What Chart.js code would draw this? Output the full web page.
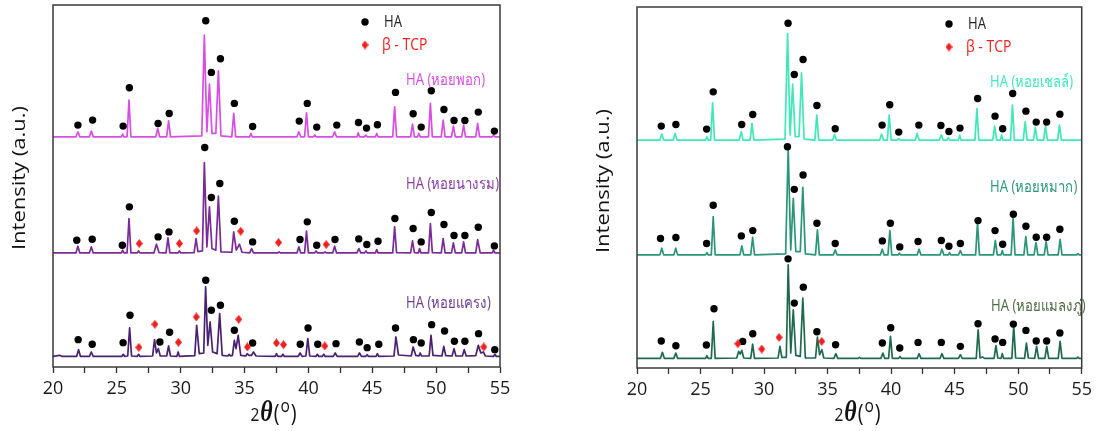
<!DOCTYPE html>
<html>
<head>
<meta charset="utf-8">
<script src="https://cdn.jsdelivr.net/npm/chart.js@4.4.1/dist/chart.umd.min.js"></script>
<style>
  html, body { margin: 0; padding: 0; background: #fff; }
  #wrap { position: relative; width: 1097px; height: 431px; overflow: hidden; }
  #left { position: absolute; left: 0; top: 0; }
  #right { position: absolute; left: 550px; top: 0; }
</style>
</head>
<body>
<div id="wrap">
  <canvas id="left" width="550" height="431"></canvas>
  <canvas id="right" width="547" height="431"></canvas>
</div>
<script>
// ====== DATA (2θ in degrees, intensity in a.u. with stacking offset) ======
const tickLabels = [20, 25, 30, 35, 40, 45, 50, 55];

// left panel traces
const hoiPhok = [[20,69],[21.8,69],[21.95,70.5],[22.1,69],[22.85,69],[23.0,70.7],[23.15,69],[25.35,69],[25.45,69.8],[25.55,69],[25.8,69],[25.95,80],[26.1,69],[28.05,69],[28.2,71.5],[28.35,69],[28.9,69],[29.05,73.8],[29.2,69],[31.65,69.3],[31.85,99.5],[32.05,70.5],[32.25,84.8],[32.45,70],[32.75,70],[32.95,88.8],[33.15,69.3],[34.0,69],[34.15,76],[34.3,69],[35.4,69],[35.5,70],[35.6,69],[39.1,69],[39.25,70.5],[39.4,69],[39.7,69],[39.85,76.2],[40.0,69],[40.4,69],[40.5,69.5],[40.6,69],[41.9,69],[42.05,70.5],[42.2,69],[43.8,69],[43.9,70.2],[44.0,69],[44.4,69],[44.5,69.5],[44.6,69],[45.25,69],[45.35,70],[45.45,69],[46.6,69],[46.75,78],[46.9,69],[48.0,69],[48.15,72.8],[48.3,69],[48.55,69],[48.65,70],[48.75,69],[49.4,69],[49.55,79],[49.7,69],[50.4,69],[50.55,74],[50.7,69],[51.2,69],[51.35,72.2],[51.5,69],[52.0,69],[52.15,72.5],[52.3,69],[53.1,69],[53.25,73],[53.4,69],[54.4,69],[54.5,69.5],[54.6,69],[55,69]];
const hoiNangrom = [[20,34.2],[21.8,34.2],[21.95,36.2],[22.1,34.2],[22.85,34.2],[23.0,36],[23.15,34.2],[25.35,34.2],[25.45,35],[25.55,34.2],[25.8,34.2],[25.95,44.5],[26.1,34.2],[26.6,34.2],[26.7,34.8],[26.8,34.2],[27.9,34.2],[28.1,36.8],[28.3,34.3],[28.85,34.2],[29.0,38.7],[29.15,34.2],[29.8,34.2],[29.9,34.8],[30.0,34.2],[31.05,34.3],[31.2,38.5],[31.35,34.6],[31.7,34.8],[31.85,61.3],[32.05,36],[32.25,48],[32.45,35.5],[32.75,35],[32.95,51.2],[33.15,34.5],[34.0,34.4],[34.15,40.5],[34.35,35],[34.6,36.8],[34.8,34.4],[35.4,34.2],[35.55,35.5],[35.7,34.2],[37.6,34.2],[37.7,34.5],[37.8,34.2],[39.1,34.2],[39.25,36],[39.4,34.2],[39.7,34.2],[39.85,40.7],[40.0,34.2],[40.5,34.2],[40.6,34.8],[40.7,34.2],[41.2,34.2],[41.3,34.5],[41.4,34.2],[41.9,34.2],[42.05,36.2],[42.2,34.2],[43.8,34.2],[43.95,35.5],[44.1,34.2],[44.4,34.2],[44.5,34.8],[44.6,34.2],[45.25,34.2],[45.35,35.2],[45.45,34.2],[46.6,34.2],[46.75,42],[46.9,34.3],[48.0,34.2],[48.15,37.8],[48.3,34.3],[48.6,34.2],[48.7,35.5],[48.8,34.2],[49.4,34.2],[49.55,43],[49.7,34.3],[50.4,34.2],[50.55,38.5],[50.7,34.2],[51.2,34.2],[51.35,37.2],[51.5,34.2],[52.0,34.2],[52.15,37.5],[52.3,34.2],[53.1,34.2],[53.25,38.2],[53.45,34.2],[54.4,34.2],[54.5,35],[54.6,34.2],[55,34.2]];
const hoiKraeng = [[20,3.2],[20.5,3.5],[20.7,3.2],[21.85,3.2],[22.0,5.2],[22.15,3.2],[22.85,3.2],[23.0,4.5],[23.15,3.2],[25.4,3.2],[25.5,3.8],[25.6,3.2],[25.85,3.3],[26.0,11.7],[26.15,3.3],[26.6,3.2],[26.7,3.8],[26.8,3.2],[27.8,3.3],[27.95,8.2],[28.1,4.2],[28.25,5.5],[28.4,3.3],[28.9,3.3],[29.05,6.3],[29.2,3.3],[29.7,3.2],[29.8,4.5],[29.9,3.2],[31.1,3.4],[31.25,12.5],[31.45,4],[31.8,4.2],[31.95,24],[32.12,6.5],[32.3,13.5],[32.5,4.5],[32.85,4],[33.05,16],[33.25,3.5],[33.7,3.3],[33.8,3.8],[33.9,3.3],[34.05,3.5],[34.2,8],[34.33,5.5],[34.5,9.5],[34.7,3.5],[35.1,3.3],[35.2,4],[35.35,3.5],[35.55,3.5],[35.7,4.5],[35.9,3.3],[37.4,3.2],[37.5,4],[37.6,3.2],[37.9,3.2],[38.0,3.8],[38.1,3.2],[39.2,3.2],[39.35,4.2],[39.5,3.2],[39.8,3.3],[39.95,8.5],[40.1,3.3],[40.6,3.2],[40.7,3.8],[40.8,3.2],[41.1,3.2],[41.2,3.8],[41.3,3.2],[41.95,3.2],[42.1,4.2],[42.25,3.2],[43.85,3.2],[44.0,4.2],[44.15,3.2],[44.5,3.2],[44.6,3.7],[44.7,3.2],[45.3,3.2],[45.4,4],[45.5,3.2],[46.7,3.3],[46.85,9],[47.05,3.6],[48.05,3.3],[48.2,6],[48.4,3.5],[48.65,3.3],[48.75,4.2],[48.85,3.3],[49.45,3.3],[49.6,9.5],[49.75,3.5],[50.45,3.3],[50.6,6.2],[50.75,3.4],[51.25,3.3],[51.4,5.5],[51.55,3.3],[52.05,3.3],[52.2,5.2],[52.35,3.3],[53.1,3.4],[53.3,6.5],[53.5,4.2],[53.7,4.5],[53.85,3.3],[54.5,3.2],[54.6,3.8],[54.7,3.2],[55,3.2]];

// right panel traces
const hoiChell = [[20,68.5],[21.8,68.5],[21.95,70.3],[22.1,68.5],[22.85,68.5],[23.0,70.5],[23.15,68.5],[25.4,68.5],[25.5,69.5],[25.6,68.5],[25.8,68.5],[25.95,79.7],[26.1,68.5],[28.05,68.5],[28.2,71],[28.35,68.5],[28.9,68.5],[29.05,73.5],[29.2,68.5],[31.65,68.8],[31.85,100.5],[32.05,70],[32.25,85.3],[32.45,69.5],[32.75,69.5],[32.95,88.7],[33.15,68.8],[34.0,68.5],[34.15,76],[34.3,68.5],[35.4,68.5],[35.55,70.2],[35.7,68.5],[39.1,68.5],[39.25,70.3],[39.4,68.5],[39.7,68.5],[39.85,76],[40.0,68.5],[40.5,68.5],[40.6,69],[40.7,68.5],[41.9,68.5],[42.05,70.5],[42.2,68.5],[43.8,68.5],[43.95,70.1],[44.1,68.5],[44.4,68.5],[44.5,69.2],[44.6,68.5],[45.3,68.5],[45.4,70],[45.5,68.5],[46.6,68.5],[46.75,78],[46.9,68.5],[48.0,68.5],[48.15,72.7],[48.3,68.5],[48.6,68.5],[48.7,70],[48.8,68.5],[49.4,68.5],[49.55,79],[49.7,68.5],[50.4,68.5],[50.55,74],[50.7,68.5],[51.2,68.5],[51.35,72.3],[51.5,68.5],[52.0,68.5],[52.15,72.7],[52.3,68.5],[53.1,68.5],[53.25,73],[53.4,68.5],[55,68.5]];
const hoiMak = [[20,34],[21.8,34],[21.95,36],[22.1,34],[22.9,34],[23.05,36],[23.2,34],[25.4,34],[25.5,34.7],[25.6,34],[25.85,34],[26.0,45.5],[26.15,34],[28.1,34],[28.25,36.7],[28.4,34],[28.95,34],[29.1,39.3],[29.25,34],[31.7,34.3],[31.9,66],[32.1,35.5],[32.3,51],[32.5,35],[32.85,35],[33.05,54.3],[33.25,34.3],[34.05,34],[34.2,41.5],[34.35,34],[35.45,34],[35.6,35.5],[35.75,34],[39.15,34],[39.3,35.7],[39.45,34],[39.75,34],[39.9,41.3],[40.05,34],[40.55,34],[40.65,34.5],[40.75,34],[42.05,34],[42.2,35.7],[42.35,34],[43.85,34],[44.0,35.7],[44.15,34],[44.5,34],[44.6,34.7],[44.7,34],[45.3,34],[45.45,35.3],[45.6,34],[46.65,34],[46.8,43.7],[46.95,34],[48.05,34],[48.2,38.3],[48.35,34],[48.65,34],[48.75,35.3],[48.85,34],[49.45,34],[49.6,45],[49.75,34],[50.45,34],[50.6,39.5],[50.75,34],[51.25,34],[51.4,37.7],[51.55,34],[52.05,34],[52.2,38],[52.35,34],[53.15,34],[53.3,38.7],[53.45,34],[54.6,34],[54.7,34.4],[54.8,34],[55,34]];
const hoiMalaengphu = [[20,2.9],[21.85,2.9],[22.0,4.7],[22.15,2.9],[22.9,2.9],[23.05,4.5],[23.2,2.9],[25.4,2.9],[25.5,3.7],[25.6,2.9],[25.85,2.9],[26.0,14],[26.15,2.9],[27.85,3],[28.0,5],[28.12,4.2],[28.25,5.3],[28.4,3],[28.95,2.9],[29.1,7.2],[29.25,2.9],[31.1,3],[31.25,6.5],[31.4,3.2],[31.75,3.2],[31.9,31],[32.1,4.5],[32.3,17.5],[32.5,3.8],[32.85,3.5],[33.05,21],[33.25,3],[34.05,3],[34.2,9.3],[34.37,4],[34.55,5.5],[34.7,3],[35.5,2.9],[35.65,4.3],[35.8,2.9],[37.4,2.9],[37.5,3.2],[37.6,2.9],[39.2,2.9],[39.35,4.5],[39.5,2.9],[39.8,2.9],[39.95,9.5],[40.1,2.9],[40.6,2.9],[40.7,3.5],[40.8,2.9],[42.05,2.9],[42.2,4.3],[42.35,2.9],[43.85,2.9],[44.0,4.3],[44.15,2.9],[45.3,2.9],[45.45,4],[45.6,2.9],[46.7,2.9],[46.85,11.5],[47.0,3],[47.2,3.3],[47.35,2.9],[48.1,2.9],[48.25,6.7],[48.4,3],[48.65,2.9],[48.75,4.3],[48.85,2.9],[49.5,2.9],[49.65,12.5],[49.8,3],[50.5,2.9],[50.65,7.5],[50.8,3],[51.3,2.9],[51.45,6.5],[51.6,2.9],[52.1,2.9],[52.25,6.5],[52.4,2.9],[53.15,2.9],[53.3,8],[53.45,2.9],[54.6,2.9],[54.7,3.3],[54.8,2.9],[55,2.9]];

// phase markers, left panel
const haLeft = [
  [21.95,72.5],[23.1,74],[25.49,72.2],[25.98,83.7],[28.23,73],[29.1,76],[31.96,103.8],[32.4,88.3],[33.11,92.4],[34.2,79],[35.63,72.1],[39.28,73.7],[39.91,79],[40.65,71.9],[42.22,72.5],[43.92,73.3],[44.55,71.6],[45.4,72.6],[46.82,82.3],[48.2,75.9],[48.83,71.9],[49.62,82.8],[50.61,77.2],[51.4,73.9],[52.25,73.9],[53.3,76.4],[54.56,70.7],
  [21.86,38],[23.07,38.3],[25.43,36.5],[25.98,48],[28.23,39],[29.08,40.5],[31.88,65.8],[32.4,50.8],[33.06,55],[34.2,43.7],[35.63,37.5],[39.34,38.2],[39.91,43.5],[40.65,36.5],[42.08,38.2],[43.94,38.4],[44.57,36.7],[45.45,37.7],[46.77,44.5],[48.2,41.5],[48.83,37.5],[49.62,46.3],[50.61,42.7],[51.4,39.4],[52.25,39.4],[53.3,41.9],[54.56,36.3],
  [21.97,8.2],[23.07,6.8],[25.49,7.3],[26.03,15.5],[28.37,7.5],[29.13,10.4],[31.96,26],[32.4,17],[33.11,18.5],[34.2,11],[35.63,7.2],[39.36,6.8],[39.97,11.7],[40.73,6.8],[42.16,7],[43.99,7.5],[44.6,5.8],[45.51,6.8],[46.82,11.7],[48.22,8.2],[48.83,7.2],[49.65,12.7],[50.66,10.8],[51.43,7.7],[52.25,7.7],[53.32,10],[54.59,5.2]
];
const tcpLeft = [
  [26.75,37],[29.9,37],[31.25,40.8],[34.7,40.7],[37.66,37.3],[41.39,36.7],
  [26.72,5.9],[27.98,12.8],[29.82,7.4],[31.22,15],[34.54,14.3],[35.22,6],[37.5,7.2],[38.05,6.7],[41.28,6.3],[53.73,6]
];
// phase markers, right panel
const haRight = [
  [21.91,72.7],[23.06,73.2],[25.48,71.8],[26.0,83],[28.24,73.2],[29.11,76.2],[31.89,103.6],[32.38,88.2],[33.07,92.7],[34.16,78.9],[35.6,71.9],[39.29,73],[39.89,79.1],[40.6,70.9],[42.18,73],[43.92,72.9],[44.55,71.1],[45.42,72.1],[46.81,81],[48.18,75.7],[48.78,71.9],[49.57,82.5],[50.61,77.2],[51.42,73.9],[52.24,73.9],[53.28,76.3],
  [21.85,38.9],[23.06,39.2],[25.48,37.4],[26.0,48.9],[28.21,39.7],[29.11,41.3],[31.84,66.5],[32.38,53.7],[33.07,58],[34.16,43.5],[35.6,37.4],[39.31,38.2],[39.94,43.5],[40.68,36.4],[42.12,38],[43.95,38.3],[44.55,36.6],[45.45,37.4],[46.84,44.3],[48.18,41.3],[48.78,37.2],[49.62,46.2],[50.61,42.6],[51.42,39.3],[52.24,39.3],[53.28,41.7],
  [21.91,8.1],[23.06,6.7],[25.46,6.9],[26.06,17.8],[28.32,8],[29.11,10.3],[31.89,32.8],[32.38,19.5],[33.09,24.3],[34.16,10.9],[35.63,7],[39.31,7.5],[39.97,12.1],[40.68,6],[42.12,7.7],[43.95,7.7],[45.45,6.5],[46.84,13.3],[48.18,8.7],[48.78,7.7],[49.62,13.2],[50.61,11.3],[51.42,8.1],[52.24,8.1],[53.28,10.5]
];
const tcpRight = [[27.94,7.3],[29.82,5.7],[31.18,9.2],[34.54,8]];

// ====== STYLE ======
const FONT = "'Open Sans', 'Noto Sans', sans-serif";
const SQ = 0.82; // the source figure is squeezed horizontally
const RED = "#f02020";

function diamond() {
  const c = document.createElement("canvas");
  c.width = 7; c.height = 9;
  const g = c.getContext("2d");
  g.fillStyle = RED;
  g.beginPath();
  g.moveTo(3.5, 0); g.lineTo(7, 4.5); g.lineTo(3.5, 9); g.lineTo(0, 4.5);
  g.closePath(); g.fill();
  return c;
}
const DIAMOND = diamond();

function text(ctx, s, x, y, font, color, align) {
  ctx.save();
  ctx.translate(x, y);
  ctx.scale(SQ, 1);
  ctx.font = font;
  ctx.fillStyle = color;
  ctx.textAlign = align || "left";
  ctx.textBaseline = "middle";
  ctx.fillText(s, 0, 0);
  ctx.restore();
}

// frame, axis titles, trace labels and legend
const deco = {
  id: "deco",
  afterDraw(chart, args, o) {
    const ctx = chart.ctx, a = chart.chartArea;
    ctx.save();
    ctx.strokeStyle = "#3a3a3a";
    ctx.lineWidth = 1.5;
    ctx.strokeRect(a.left, a.top, a.right - a.left, a.bottom - a.top);
    ctx.restore();

    // y title
    ctx.save();
    ctx.translate(o.yTitle[0], o.yTitle[1]);
    ctx.rotate(-Math.PI / 2);
    ctx.scale(1, SQ);
    ctx.font = "22px " + FONT;
    ctx.fillStyle = "#111";
    ctx.textAlign = "center";
    ctx.textBaseline = "middle";
    ctx.fillText("Intensity (a.u.)", 0, 0);
    ctx.restore();

    // x title 2θ(°)
    const parts = [
      { s: "2", f: "19px " + FONT, dy: 0 },
      { s: "θ", f: "italic bold 29px 'Liberation Serif', serif", dy: 0 },
      { s: "(", f: "24px " + FONT, dy: 0 },
      { s: "o", f: "19px " + FONT, dy: -9 },
      { s: ")", f: "24px " + FONT, dy: 0 }
    ];
    let w = 0;
    parts.forEach(p => { ctx.font = p.f; p.w = ctx.measureText(p.s).width * SQ; w += p.w + 1; });
    let x = o.xTitle[0] - w / 2;
    parts.forEach(p => {
      ctx.save();
      ctx.translate(x, o.xTitle[1] + p.dy);
      ctx.scale(SQ, 1);
      ctx.font = p.f; ctx.fillStyle = "#111"; ctx.textBaseline = "alphabetic";
      ctx.fillText(p.s, 0, 0);
      ctx.restore();
      x += p.w + 1;
    });

    // trace labels
    o.labels.forEach(l => text(ctx, l.t, l.x, l.y, "16px " + FONT, l.c, "left"));

    // legend
    const [lx, ly] = o.legend;
    ctx.save();
    ctx.fillStyle = "#000";
    ctx.beginPath(); ctx.arc(lx, ly, 3.7, 0, Math.PI * 2); ctx.fill();
    ctx.drawImage(DIAMOND, lx - 3.5, ly + 23 - 4.5);
    ctx.restore();
    text(ctx, "HA", lx + 19, ly, "16px " + FONT, "#222", "left");
    text(ctx, "β - TCP", lx + 17, ly + 23, "17px " + FONT, RED, "left");
  }
};

function lineSet(data, color) {
  return { type: "line", data, borderColor: color, borderWidth: 1.7, pointRadius: 0,
           tension: 0, borderJoinStyle: "round", order: 2 };
}

function makeChart(id, traces, ha, tcp, pad, xh, decoOpts) {
  return new Chart(document.getElementById(id), {
    type: "scatter",
    data: {
      datasets: [
        ...traces.map(t => lineSet(t[0], t[1])),
        { data: ha, backgroundColor: "#000", borderWidth: 0, pointRadius: 3.7, order: 1 },
        { data: tcp, pointStyle: DIAMOND, pointRadius: 4, order: 0 }
      ]
    },
    options: {
      responsive: false, animation: false, devicePixelRatio: 1,
      layout: { padding: pad },
      plugins: { legend: { display: false }, tooltip: { enabled: false }, deco: decoOpts },
      scales: {
        x: {
          type: "linear", min: 20, max: 55,
          afterFit: s => { s.height = xh; },
          border: { display: false },
          grid: { drawOnChartArea: false, drawTicks: true, tickLength: 6, tickColor: "#333", tickWidth: 1.3 },
          ticks: {
            stepSize: 2.5, autoSkip: false, maxRotation: 0, padding: 5, color: "#1a1a1a",
            font: { family: "'Liberation Sans Narrow', " + FONT, size: 18 },
            callback: v => tickLabels.includes(v) ? String(v) : ""
          }
        },
        y: { display: false, min: 0, max: 108.5 }
      }
    },
    plugins: [deco]
  });
}

makeChart("left",
  [[hoiPhok, "#d84de6"], [hoiNangrom, "#7a2b98"], [hoiKraeng, "#4a2070"]],
  haLeft, tcpLeft,
  { left: 53, right: 50, top: 5, bottom: 0 }, 64,
  {
    yTitle: [20, 178], xTitle: [274, 421], legend: [365, 22],
    labels: [
      { t: "HA (หอยพอก)", x: 406, y: 80, c: "#d84de6" },
      { t: "HA (หอยนางรม)", x: 406, y: 184, c: "#8a3aa4" },
      { t: "HA (หอยแครง)", x: 406, y: 303, c: "#6a3a92" }
    ]
  });

makeChart("right",
  [[hoiChell, "#3fe8b8"], [hoiMak, "#2a9676"], [hoiMalaengphu, "#1f6a4e"]],
  haRight, tcpRight,
  { left: 87, right: 10, top: 7, bottom: 0 }, 63,
  {
    yTitle: [54, 181], xTitle: [308, 421], legend: [399, 24],
    labels: [
      { t: "HA (หอยเชลล์)", x: 440, y: 82, c: "#3fe8c0" },
      { t: "HA (หอยหมาก)", x: 440, y: 187, c: "#2a9878" },
      { t: "HA (หอยแมลงภู่)", x: 441, y: 306, c: "#4d6a44" }
    ]
  });
</script>
</body>
</html>
